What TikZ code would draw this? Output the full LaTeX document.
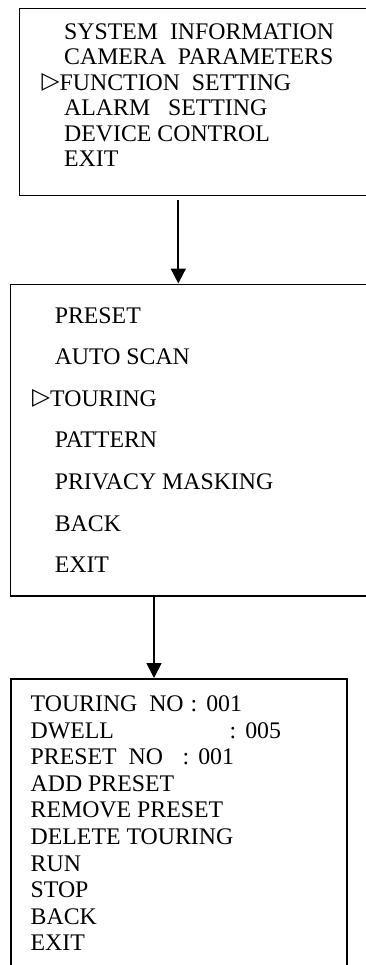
\documentclass[tikz,border=0pt]{standalone}
\usepackage{fontspec}
\setmainfont{Liberation Serif}
\newfontfamily\pointerfont{DejaVu Sans}
\usetikzlibrary{positioning}
\usetikzlibrary{arrows.meta}

\tikzset{
  menubox/.style={draw, line width=1.8bp, inner sep=0pt, anchor=north west},
  menuline/.style={inner sep=0pt, anchor=base west, font=\fontsize{23.9}{26}\selectfont},
  menuarrow/.style={-{Triangle[length=15bp,width=15bp]}, line width=1.8bp},
}
\newcommand{\pointer}{\llap{\raisebox{1.5bp}{\pointerfont\fontsize{23.5}{24}\selectfont ▷}}}

\begin{document}
\begin{tikzpicture}[x=1bp,y=-1bp]
    \useasboundingbox (0,0) rectangle (365,965);

    % main menu
    \node[menubox, minimum width=370bp, minimum height=187bp] (mainbox) at (18.5,7.5) {};
    \foreach \i/\txt in {1/SYSTEM\ \ INFORMATION, 2/CAMERA\ \ PARAMETERS, 4/ALARM\ \ \ SETTING, 5/DEVICE\ CONTROL, 6/EXIT}
        \node[menuline] (main\i) at (64, 14.1+25.4*\i) {\txt};
    \node[menuline] (main3) at (59.5, 90.3) {\pointer FUNCTION\ \ SETTING};

    % function setting
    \node[menubox, minimum width=370bp, minimum height=311.5bp] (funcbox) at (9.5,283.5) {};
    \foreach \i/\txt in {1/PRESET, 2/AUTO SCAN, 4/PATTERN, 5/PRIVACY MASKING, 6/BACK, 7/EXIT}
        \node[menuline] (func\i) at (54.6, 281.7+41.57*\i) {\txt};
    \node[menuline] (func3) at (50, 406.4) {\pointer TOURING};

    % touring
    \node[menubox, minimum width=335.7bp, minimum height=320bp] (tourbox) at (10,678) {};
    \node[menuline] (tour1) at (30.5, 711.7) {\makebox[160bp][l]{TOURING\ \ NO}:\hspace{9bp}001};
    \node[menuline] (tour2) at (30.5, 738.3) {\makebox[199bp][l]{DWELL}:\hspace{9bp}005};
    \node[menuline] (tour3) at (30.5, 764.8) {\makebox[152bp][l]{PRESET\ \ NO}:\hspace{9bp}001};
    \foreach \i/\txt in {4/ADD PRESET, 5/REMOVE PRESET, 6/DELETE TOURING, 7/RUN, 8/STOP, 9/BACK, 10/EXIT}
        \node[menuline] (tour\i) at (30.5, 685.1+26.56*\i) {\txt};

    \coordinate (dropA) at (178.3,0);
    \coordinate (dropB) at (154,0);
    \draw[menuarrow] ([yshift=-4bp]mainbox.south -| dropA) -- (funcbox.north -| dropA);
    \draw[menuarrow] (funcbox.south -| dropB) -- (tourbox.north -| dropB);
\end{tikzpicture}
\end{document}
